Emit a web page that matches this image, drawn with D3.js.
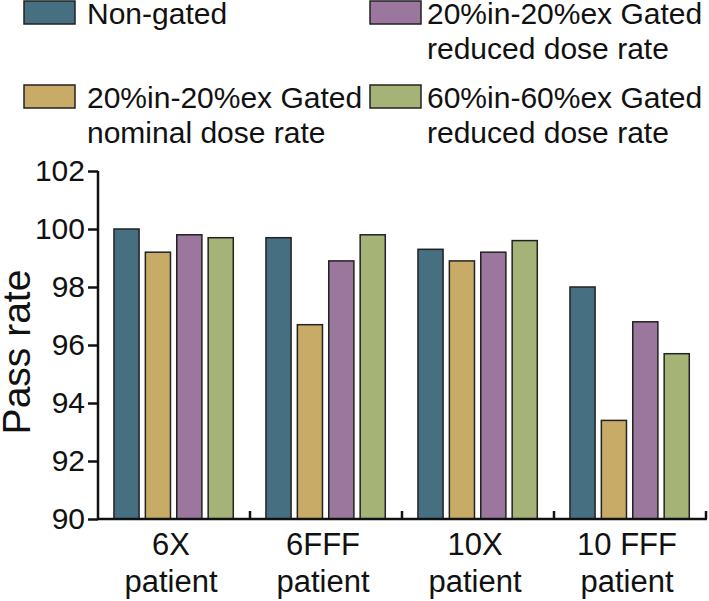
<!DOCTYPE html>
<html>
<head>
<meta charset="utf-8">
<script src="https://cdn.jsdelivr.net/npm/d3@7"></script>
<style>
  body { margin: 0; background: #fff; }
  svg { display: block; font-family: "Liberation Sans", Arial, sans-serif; }
  .axis path, .axis line { stroke: #111; stroke-width: 2.5; }
  .axis text { font-size: 30px; fill: #111; }
</style>
</head>
<body>
<svg width="709" height="601"></svg>
<script>
// data
var categories = ["6X", "6FFF", "10X", "10 FFF"];
var categoryLines = [["6X", "patient"], ["6FFF", "patient"], ["10X", "patient"], ["10 FFF", "patient"]];
var seriesNames = ["Non-gated", "20%in-20%ex Gated nominal dose rate",
                   "20%in-20%ex Gated reduced dose rate", "60%in-60%ex Gated reduced dose rate"];
var nonGated     = [100.0, 99.7, 99.3, 98.0];
var gated20Nom   = [99.2, 96.7, 98.9, 93.4];
var gated20Red   = [99.8, 98.9, 99.2, 96.8];
var gated60Red   = [99.7, 99.8, 99.6, 95.7];
var yTicks = [90, 92, 94, 96, 98, 100, 102];
var colors = ["#466f81", "#c9ab68", "#9b779d", "#a5b476"];

var seriesValues = [nonGated, gated20Nom, gated20Red, gated60Red];

var svg = d3.select("svg"),
    plot = {left: 98, right: 706, top: 171, bottom: 519};

var x = d3.scaleBand().domain(categories).range([plot.left, plot.right]);
var inner = d3.scaleBand().domain(d3.range(seriesNames.length))
    .range([x.bandwidth() * 0.105, x.bandwidth() * 0.89]).paddingInner(0.2);
var y = d3.scaleLinear().domain([90, 102]).range([plot.bottom, plot.top]);

// bars
var groups = svg.append("g").selectAll("g")
  .data(categories)
  .enter().append("g")
    .attr("transform", function(d) { return "translate(" + x(d) + ",0)"; });

groups.selectAll("rect")
  .data(function(d, i) { return seriesValues.map(function(s, j) { return {s: j, v: s[i]}; }); })
  .enter().append("rect")
    .attr("x", function(d) { return inner(d.s); })
    .attr("y", function(d) { return y(d.v); })
    .attr("width", inner.bandwidth())
    .attr("height", function(d) { return y(90) - y(d.v); })
    .attr("fill", function(d) { return colors[d.s]; })
    .attr("stroke", "#222")
    .attr("stroke-width", 1.5);

// y axis
svg.append("g")
  .attr("class", "axis")
  .attr("transform", "translate(" + plot.left + ",0)")
  .call(d3.axisLeft(y).tickValues(yTicks).tickSize(10).tickPadding(3).tickSizeOuter(0))
  .call(function(g) { g.select(".domain").attr("d", "M0," + plot.top + "V" + plot.bottom); });

// x axis: baseline plus small inward ticks between groups
var xa = svg.append("g").attr("class", "axis");
xa.append("path").attr("d", "M" + plot.left + "," + plot.bottom + "H" + (plot.right + 1)).attr("fill", "none");
var bounds = categories.slice(1).map(function(c) { return x(c); }).concat([plot.right]);
xa.selectAll("line.tk")
  .data(bounds)
  .enter().append("line")
    .attr("class", "tk")
    .attr("x1", function(d) { return d; }).attr("x2", function(d) { return d; })
    .attr("y1", plot.bottom).attr("y2", plot.bottom - 8);

categoryLines.forEach(function(lines, i) {
  var cx = x(categories[i]) + x.bandwidth() / 2 - 3;
  lines.forEach(function(t, k) {
    svg.append("text")
      .attr("x", cx).attr("y", 555 + k * 37)
      .attr("text-anchor", "middle")
      .style("font-size", "31px").style("fill", "#111")
      .text(t);
  });
});

// y label
svg.append("text")
  .attr("transform", "translate(30,352) rotate(-90)")
  .attr("text-anchor", "middle")
  .style("font-size", "39px").style("fill", "#111")
  .text("Pass rate");

// legend (2 x 2)
var legendItems = [
  {s: 0, x: 24, y: 1, lines: ["Non-gated"]},
  {s: 2, x: 370, y: 1, lines: ["20%in-20%ex Gated", "reduced dose rate"]},
  {s: 1, x: 24, y: 85, lines: ["20%in-20%ex Gated", "nominal dose rate"]},
  {s: 3, x: 370, y: 85, lines: ["60%in-60%ex Gated", "reduced dose rate"]}
];
var leg = svg.append("g").selectAll("g")
  .data(legendItems)
  .enter().append("g")
    .attr("transform", function(d) { return "translate(" + d.x + "," + d.y + ")"; });

leg.append("rect")
  .attr("width", 51).attr("height", 23)
  .attr("fill", function(d) { return colors[d.s]; })
  .attr("stroke", "#222").attr("stroke-width", 1.5);

leg.each(function(d) {
  var g = d3.select(this);
  d.lines.forEach(function(t, k) {
    g.append("text")
      .attr("x", d.x === 24 ? 63 : 57)
      .attr("y", 23 + k * 35)
      .style("font-size", "30px").style("fill", "#111")
      .text(t);
  });
});
</script>
</body>
</html>
